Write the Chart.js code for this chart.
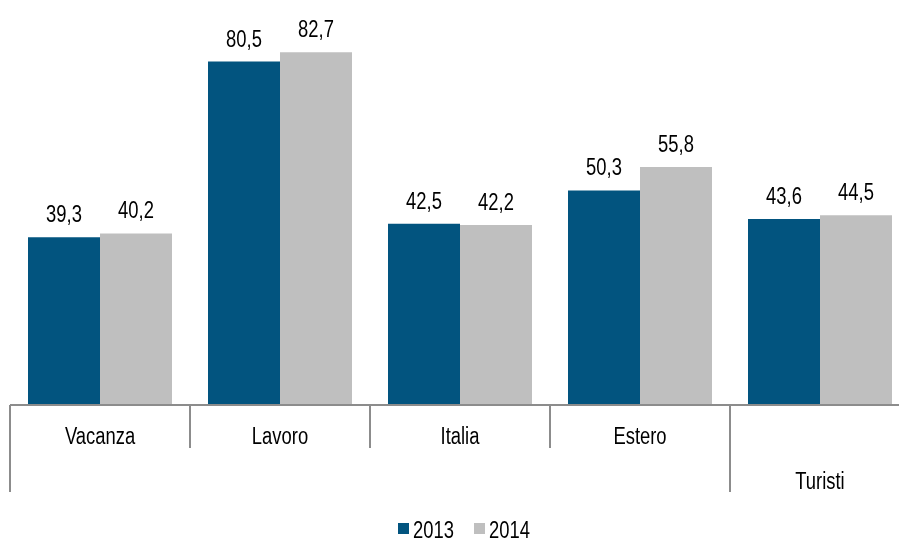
<!DOCTYPE html>
<html>
<head>
<meta charset="utf-8">
<script src="https://cdn.jsdelivr.net/npm/chart.js@4/dist/chart.umd.min.js"></script>
<style>
  html, body { margin:0; padding:0; background:#fff; overflow:hidden; }
  #wrap { width:920px; height:539px; }
</style>
</head>
<body>
<div id="wrap"><canvas id="c"></canvas></div>
<script>
  // categorie e valori
  const categories = ['Vacanza', 'Lavoro', 'Italia', 'Estero', 'Turisti'];
  const years = ['2013', '2014'];
  const v2013 = [39.3, 80.5, 42.5, 50.3, 43.6];
  const v2014 = [40.2, 82.7, 42.2, 55.8, 44.5];
  const colors = ['#02547f', '#bfbfbf'];

  const FONT = '23px "Liberation Sans", Arial, sans-serif';
  const NARROW = 0.8;   // simula Arial Narrow
  const fmt = function(v){ return v.toFixed(1).replace('.', ','); };

  // testo "stretto": scala orizzontale attorno al punto di ancoraggio
  function narrowText(ctx, txt, x, y, align){
    ctx.save();
    ctx.translate(x, y);
    ctx.scale(NARROW, 1);
    ctx.textAlign = align || 'center';
    ctx.textBaseline = 'alphabetic';
    ctx.fillText(txt, 0, 0);
    ctx.restore();
  }

  /* etichette valori sopra le barre */
  const valueLabels = {
    id: 'valueLabels',
    afterDatasetsDraw(chart){
      const ctx = chart.ctx;
      ctx.save();
      ctx.font = FONT;
      ctx.fillStyle = '#000';
      chart.data.datasets.forEach(function(ds, i){
        chart.getDatasetMeta(i).data.forEach(function(bar, j){
          narrowText(ctx, fmt(ds.data[j]), bar.x, bar.y - 15);
        });
      });
      ctx.restore();
    }
  };

  /* asse categorie a due livelli + legenda */
  const catAxis = {
    id: 'catAxis',
    afterDraw(chart){
      const ctx = chart.ctx;
      const x = chart.scales.x;
      const bottom = chart.chartArea.bottom;
      const half = (x.getPixelForValue(1) - x.getPixelForValue(0)) / 2;
      ctx.save();
      ctx.strokeStyle = '#8c8c8c';
      ctx.lineWidth = 2;
      ctx.beginPath();
      ctx.moveTo(chart.chartArea.left, bottom);
      ctx.lineTo(chart.chartArea.right, bottom);
      ctx.stroke();
      ctx.beginPath();
      for(let i = 0; i <= 4; i++){
        const px = Math.round(x.getPixelForValue(i) - half);
        const long = (i === 0 || i === 4);
        ctx.moveTo(px, bottom);
        ctx.lineTo(px, bottom + (long ? 87 : 43));
      }
      ctx.stroke();
      ctx.font = FONT;
      ctx.fillStyle = '#000';
      categories.forEach(function(c, i){
        const y = i < 4 ? bottom + 39 : bottom + 84;
        narrowText(ctx, c, x.getPixelForValue(i), y);
      });

      // legenda
      const legX = [398, 474];
      years.forEach(function(yr, i){
        ctx.fillStyle = colors[i];
        ctx.fillRect(legX[i], 523, 11, 11);
        ctx.fillStyle = '#000';
        narrowText(ctx, yr, legX[i] + 15, 538, 'left');
      });
      ctx.restore();
    }
  };

  new Chart(document.getElementById('c'), {
    type: 'bar',
    data: {
      labels: categories,
      datasets: [
        { label: years[0], data: v2013, backgroundColor: colors[0] },
        { label: years[1], data: v2014, backgroundColor: colors[1] }
      ]
    },
    options: {
      responsive: true,
      maintainAspectRatio: false,
      animation: false,
      layout: { padding: { left: 10, right: 10, top: 21, bottom: 134 } },
      datasets: { bar: { categoryPercentage: 0.8, barPercentage: 1.0 } },
      scales: {
        x: { display: false },
        y: { display: false, min: 0, max: 90 }
      },
      plugins: {
        legend: { display: false },
        tooltip: { enabled: false }
      }
    },
    plugins: [valueLabels, catAxis]
  });
</script>
</body>
</html>
